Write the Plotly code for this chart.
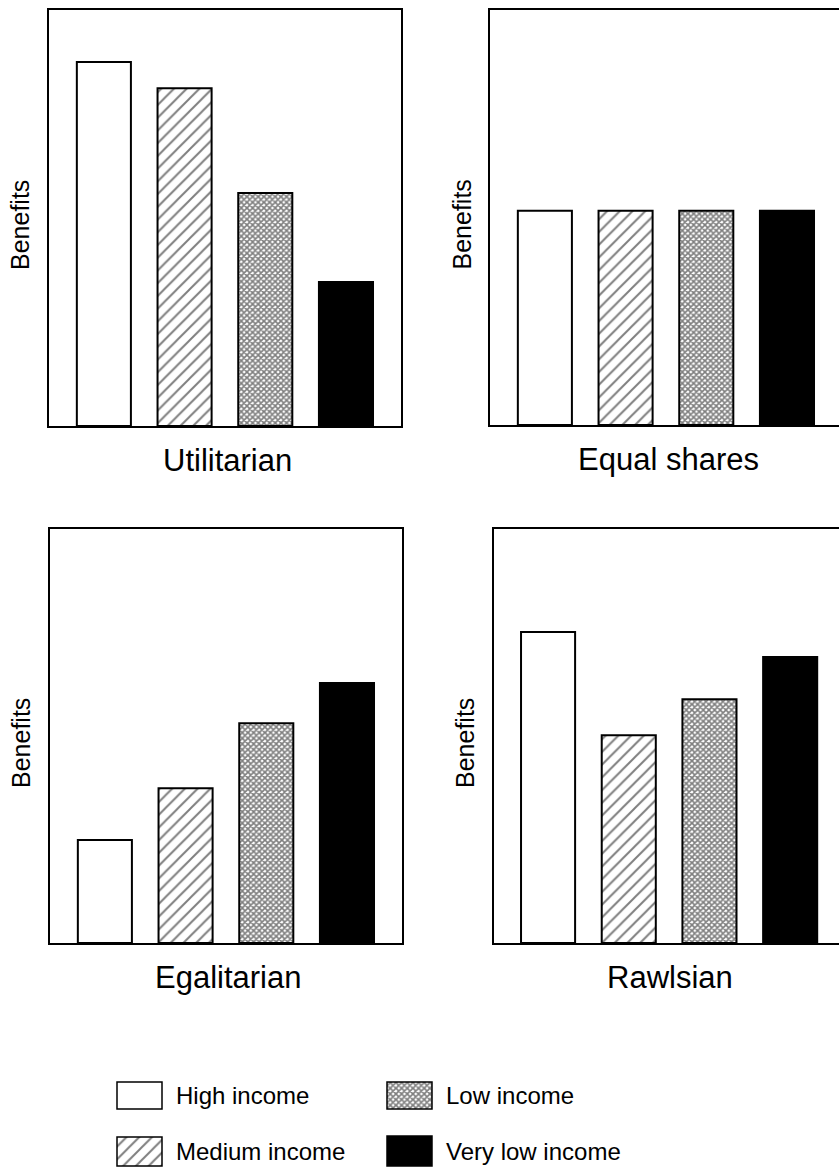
import plotly.graph_objects as go

# ---- data ----
groups = ["High income", "Medium income", "Low income", "Very low income"]
panels = ["Utilitarian", "Equal shares", "Egalitarian", "Rawlsian"]
utilitarian = [87.5, 81.2, 56.0, 34.6]
equal_shares = [51.6, 51.6, 51.6, 51.6]
egalitarian = [24.9, 37.4, 53.1, 62.8]
rawlsian = [75.1, 50.2, 58.9, 69.1]
values = [utilitarian, equal_shares, egalitarian, rawlsian]
y_label = "Benefits"

W, H = 839, 1172
FONT = "Liberation Sans, Arial, Helvetica, sans-serif"

styles = [
    dict(color="white", pattern=dict(shape="")),
    dict(color="white", pattern=dict(shape="/", size=9, solidity=0.22, fgcolor="black", bgcolor="white")),
    dict(color="white", pattern=dict(shape="x", size=4, solidity=0.65, fgcolor="black", bgcolor="white")),
    dict(color="black", pattern=dict(shape="")),
]

# panel frames in pixels: (left, right, top, bottom)
frames = [(49, 401, 10, 426), (490, 842, 10, 425), (50, 402, 529, 943), (494, 842, 529, 943)]
PX_PER_UNIT = 80.7
x0s = [-0.68, -0.68, -0.68, -0.67]

fig = go.Figure()
for p, (vals, fr) in enumerate(zip(values, frames)):
    ax = "" if p == 0 else str(p + 1)
    for g, name in enumerate(groups):
        st = styles[g]
        fig.add_trace(go.Bar(
            x=[g], y=[vals[g]], name=name, width=0.67,
            marker=dict(color=st["color"], pattern=st["pattern"],
                        line=dict(color="black", width=2)),
            xaxis="x" + ax, yaxis="y" + ax, showlegend=False,
        ))
    l, r, t, b = fr
    r_vis = min(r, W)
    xr = [x0s[p], x0s[p] + (r_vis - l) / PX_PER_UNIT]
    mirror_y = r <= W
    fig.layout["xaxis" + ax] = dict(
        domain=[l / W, r_vis / W], range=xr, showticklabels=False, ticks="",
        showgrid=False, zeroline=False, showline=True, linecolor="black",
        linewidth=2, mirror=True, anchor="y" + ax, fixedrange=True)
    fig.layout["yaxis" + ax] = dict(
        domain=[1 - b / H, 1 - t / H], range=[0, 100], showticklabels=False,
        ticks="", showgrid=False, zeroline=False, showline=True,
        linecolor="black", linewidth=2, mirror=mirror_y, anchor="x" + ax,
        fixedrange=True)
    # panel title
    fig.add_annotation(text=panels[p], xref="paper", yref="paper",
                       x=((l + min(r, 842)) / 2 + 2) / W, y=1 - (b + 34) / H,
                       xanchor="center", yanchor="middle", showarrow=False,
                       font=dict(family=FONT, size=31, color="black"))
    # y label
    fig.add_annotation(text=y_label, xref="paper", yref="paper",
                       x=(l - 29) / W, y=1 - ((t + b) / 2 + 7) / H,
                       xanchor="center", yanchor="middle", showarrow=False,
                       textangle=-90,
                       font=dict(family=FONT, size=25, color="black"))

# ---- legend drawn as a small bar axis ----
leg_cols = [139.5, 139.5, 409.5, 409.5]
leg_bottoms = [1109, 1166, 1109, 1166]
leg_h = [27, 29, 27, 30]
for g, name in enumerate(groups):
    st = styles[g]
    fig.add_trace(go.Bar(
        x=[leg_cols[g]], y=[-leg_h[g]], base=[leg_bottoms[g]], width=45,
        name=name, marker=dict(color=st["color"], pattern=st["pattern"],
                               line=dict(color="black", width=1.5)),
        xaxis="x5", yaxis="y5", showlegend=False))
    fig.add_annotation(text=name, xref="x5", yref="y5",
                       x=leg_cols[g] + 34, y=leg_bottoms[g] - leg_h[g] / 2,
                       xanchor="left", yanchor="middle", showarrow=False,
                       font=dict(family=FONT, size=24, color="black"))
fig.layout["xaxis5"] = dict(domain=[0, 1], range=[0, W], visible=False,
                            anchor="y5", fixedrange=True)
fig.layout["yaxis5"] = dict(domain=[0, (H - 1060) / H], range=[H, 1060],
                            visible=False, anchor="x5", fixedrange=True)

fig.update_layout(
    width=W, height=H, margin=dict(l=0, r=0, t=0, b=0),
    paper_bgcolor="white", plot_bgcolor="white", barmode="overlay",
    font=dict(family=FONT, color="black"), hovermode=False,
)
fig.write_html("out.html", config={"displayModeBar": False, "staticPlot": True},
               post_script="document.body.style.margin='0';document.body.style.overflow='hidden';")
